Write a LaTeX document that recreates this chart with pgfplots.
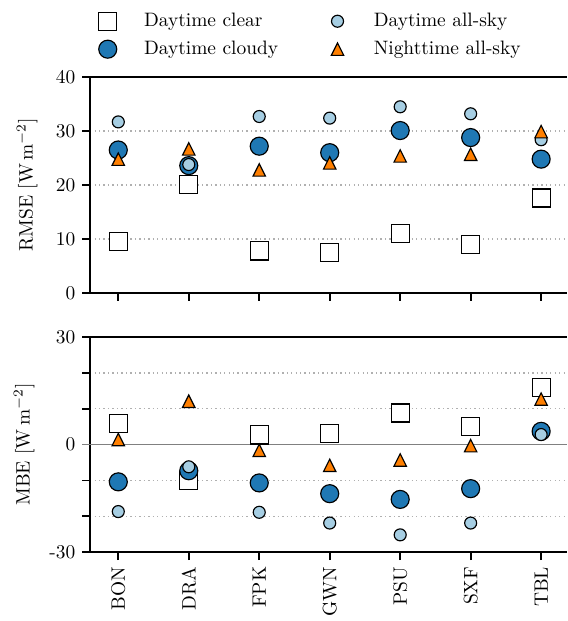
\documentclass[border=0pt]{standalone}
\usepackage{pgfplots}
\usepackage{pgfplotstable}
\pgfplotsset{compat=1.18}

\definecolor{clouddark}{HTML}{1F78B4}
\definecolor{skylight}{HTML}{A6CEE3}
\definecolor{nightorange}{HTML}{FF7F00}
\definecolor{gridgray}{HTML}{B0B0B0}
\definecolor{zerogray}{HTML}{808080}

% upward triangle whose box is centred on the data point
\pgfdeclareplotmark{mtri}{%
  \pgfpathmoveto{\pgfqpoint{0pt}{\pgfplotmarksize}}%
  \pgfpathlineto{\pgfqpoint{-\pgfplotmarksize}{-\pgfplotmarksize}}%
  \pgfpathlineto{\pgfqpoint{\pgfplotmarksize}{-\pgfplotmarksize}}%
  \pgfpathclose
  \pgfusepathqfillstroke}

% station index, RMSE and MBE (W m^-2)
\pgfplotstableread{
x rmse mbe
0 9.6   5.8
1 20.1 -10.0
2 7.8   2.7
3 7.5   3.1
4 11.1  8.8
5 9.0   5.0
6 17.6 16.0
}\clearsky
\pgfplotstableread{
x rmse mbe
0 26.5 -10.4
1 23.6  -7.3
2 27.2 -10.7
3 26.0 -13.7
4 30.1 -15.3
5 28.8 -12.3
6 24.8   3.7
}\cloudy
\pgfplotstableread{
x rmse mbe
0 31.7 -18.7
1 23.8  -6.2
2 32.7 -18.9
3 32.4 -21.9
4 34.5 -25.2
5 33.2 -21.9
6 28.4   2.8
}\allsky
\pgfplotstableread{
x rmse mbe
0 24.8  1.4
1 26.7 12.1
2 22.8 -1.6
3 24.1 -5.8
4 25.4 -4.3
5 25.7 -0.3
6 29.9 12.7
}\night

\pgfplotsset{
  stationaxis/.style={
    scale only axis,
    width=245.7pt,
    xmin=-0.4, xmax=6.37,
    axis x line=box, axis y line=left,
    axis line style={line width=0.9pt,-},
    xtick={0,...,6},
    xtick pos=lower, ytick pos=lower,
    tick align=outside,
    major tick length=4.1pt,
    every tick/.style={black, line width=0.9pt},
    ymajorgrids,
    major grid style={gridgray, line width=0.7pt, dash pattern=on 0.7pt off 1.6pt},
    only marks,
    clip=false,
    legend image code/.code={%
      \draw[##1] plot coordinates {(0pt,0pt)};
      \path (-5pt,-4pt) (17.5pt,4pt);},
  },
  clearstyle/.style={mark=square*, mark size=4.64pt,
    mark options={fill=white, draw=black, line width=0.6pt}},
  cloudstyle/.style={mark=*, mark size=4.64pt,
    mark options={fill=clouddark, draw=black, line width=0.6pt}},
  skystyle/.style={mark=*, mark size=3.09pt,
    mark options={fill=skylight, draw=black, line width=0.6pt}},
  nightstyle/.style={mark=mtri, mark size=3.2pt,
    mark options={fill=nightorange, draw=black, line width=0.6pt}},
}

\begin{document}
\begin{tikzpicture}
\begin{axis}[stationaxis,
  name=top,
  at={(0,0)}, anchor=south west,
  height=111.2pt,
  ymin=0, ymax=40,
  ytick={0,10,20,30,40},
  xticklabels={},
  every axis y label/.style={at={(axis description cs:-0.132,0.5)}, rotate=90, anchor=center},
  ylabel={RMSE [W\,m$^{-2}$]},
  legend columns=2,
  transpose legend,
  legend style={draw=none, fill=none, inner sep=0pt,
    at={(axis description cs:0.015,1.31)}, anchor=north west,
    nodes={inner sep=1pt, text height=7pt, text depth=2pt},
    row sep=3.4pt,
    /tikz/every even column/.append style={column sep=24.4pt}},
  legend cell align=left,
]
\addplot[clearstyle] table[x=x, y=rmse] {\clearsky};
\addlegendentry{Daytime clear}
\addplot[cloudstyle] table[x=x, y=rmse] {\cloudy};
\addlegendentry{Daytime cloudy}
\addplot[skystyle] table[x=x, y=rmse] {\allsky};
\addlegendentry{Daytime all-sky}
\addplot[nightstyle] table[x=x, y=rmse] {\night};
\addlegendentry{Nighttime all-sky}
\end{axis}

\begin{axis}[stationaxis,
  at={(0,-22.7pt)}, anchor=north west,
  height=110.7pt,
  ymin=-30, ymax=30,
  ytick={-30,-20,-10,10,20,30},
  yticklabels={-30,{},{},{},{},30},
  extra y ticks={0},
  extra y tick labels={0},
  extra y tick style={
    major grid style={zerogray, solid, line width=0.9pt},
    every tick/.style={zerogray, line width=0.9pt}},
  xticklabels={BON,DRA,FPK,GWN,PSU,SXF,TBL},
  xticklabel style={rotate=90, anchor=east},
  every axis y label/.style={at={(axis description cs:-0.138,0.5)}, rotate=90, anchor=center},
  ylabel={MBE [W\,m$^{-2}$]},
]
\addplot[clearstyle] table[x=x, y=mbe] {\clearsky};
\addplot[cloudstyle] table[x=x, y=mbe] {\cloudy};
\addplot[skystyle] table[x=x, y=mbe] {\allsky};
\addplot[nightstyle] table[x=x, y=mbe] {\night};
\end{axis}

\pgfresetboundingbox
\path (-46.4pt,-168.9pt) rectangle (245.7pt,150.9pt);
\end{tikzpicture}
\end{document}
